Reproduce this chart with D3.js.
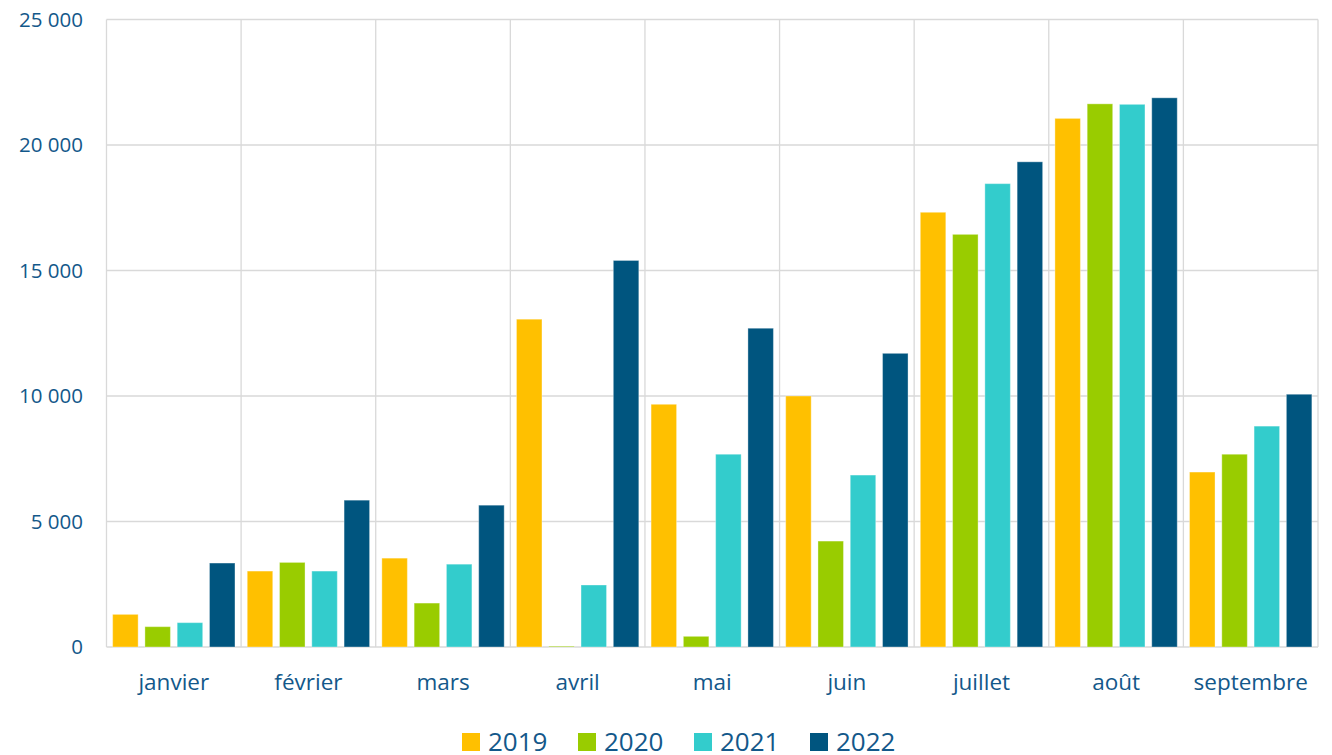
<!DOCTYPE html>
<html><head><meta charset="utf-8">
<script src="https://cdn.jsdelivr.net/npm/d3@7"></script>
<style>body{margin:0;background:#fff}svg{display:block}</style>
</head><body>
<svg id="chart" width="1332" height="755"></svg>
<script>
const months = ["janvier","février","mars","avril","mai","juin","juillet","août","septembre"];
const years = ["2019","2020","2021","2022"];
const v2019 = [1300,3025,3540,13060,9670,10000,17320,21060,6970];
const v2020 = [810,3370,1750,30,425,4220,16440,21640,7680];
const v2021 = [970,3025,3300,2470,7680,6850,18460,21620,8800];
const v2022 = [3345,5850,5650,15400,12700,11700,19330,21880,10070];
const yTicks = [0,5000,10000,15000,20000,25000];
const colors = ["#FFC000","#99CC00","#33CCCC","#00557F"];

const series = [v2019,v2020,v2021,v2022];
const textColor = "#13588a";
const font = "'Open Sans', 'Noto Sans', sans-serif";

const svg = d3.select("#chart");
const m = {left:106.5, right:1318, top:19.5, bottom:647};
const x0 = d3.scaleBand().domain(months).range([m.left, m.right]).padding(0);
const x1 = d3.scaleBand().domain(years).range([0, x0.bandwidth()]).paddingInner(0.21).paddingOuter(0.19);
const y = d3.scaleLinear().domain([0,25000]).range([m.bottom, m.top]);

// horizontal gridlines
svg.append("g").selectAll("line").data(yTicks).join("line")
  .attr("x1", m.left).attr("x2", m.right)
  .attr("y1", d=>y(d)).attr("y2", d=>y(d))
  .attr("stroke","#d9d9d9").attr("stroke-width",1.3);
// vertical gridlines
const vx = months.map(mm=>x0(mm)).concat([m.right]);
svg.append("g").selectAll("line").data(vx).join("line")
  .attr("x1", d=>d).attr("x2", d=>d)
  .attr("y1", m.top).attr("y2", m.bottom)
  .attr("stroke","#d9d9d9").attr("stroke-width",1.3);

// bars
const g = svg.append("g");
months.forEach((mm,i)=>{
  years.forEach((yr,j)=>{
    const val = series[j][i];
    g.append("rect")
      .attr("x", x0(mm)+x1(yr))
      .attr("y", y(val))
      .attr("width", x1.bandwidth())
      .attr("height", y(0)-y(val))
      .attr("fill", colors[j])
      .attr("stroke","rgba(255,255,255,0.35)").attr("stroke-width",1);
  });
});

// y axis labels
svg.append("g").selectAll("text").data(yTicks).join("text")
  .attr("x", 83).attr("y", d=>y(d)).attr("dy","0.36em")
  .attr("text-anchor","end").attr("fill",textColor)
  .style("font-family",font).style("font-size","20.5px")
  .text(d=>d3.format(",")(d).replace(/,/g," "));

// x axis labels
svg.append("g").selectAll("text").data(months).join("text")
  .attr("x", d=>x0(d)+x0.bandwidth()/2).attr("y", 690)
  .attr("text-anchor","middle").attr("fill",textColor)
  .style("font-family",font).style("font-size","22.5px")
  .text(d=>d);

// legend
const lg = svg.append("g");
years.forEach((yr,j)=>{
  const lx = 462 + j*116;
  lg.append("rect").attr("x",lx).attr("y",733).attr("width",18).attr("height",18).attr("fill",colors[j]);
  lg.append("text").attr("x",lx+26).attr("y",751).attr("fill",textColor)
    .style("font-family",font).style("font-size","26px").text(yr);
});
</script>
</body></html>
